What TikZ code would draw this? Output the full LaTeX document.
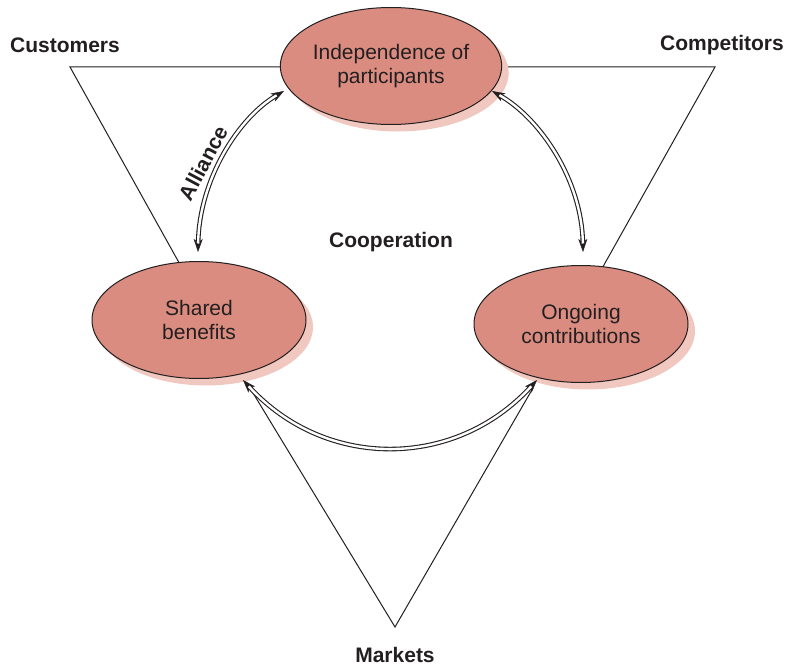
\documentclass[tikz,border=0pt]{standalone}
\usepackage{fontspec}
\setmainfont{Liberation Sans}
\usetikzlibrary{shapes.geometric,arrows.meta,shadows}
\definecolor{ellfill}{HTML}{DA8C80}
\definecolor{shadowpink}{HTML}{F0C8BF}
\definecolor{ink}{HTML}{231F20}
\newcommand\dlink[1]{%
  \draw[ink, line width=0.5pt, {Stealth[length=13pt,width=9pt,inset=3.5pt]}-{Stealth[length=13pt,width=9pt,inset=3.5pt]}] #1;
  \draw[ink, line width=4.6pt, shorten <=8.5pt, shorten >=8.5pt] #1;
  \draw[white, line width=2.4pt, shorten <=8.5pt, shorten >=8.5pt] #1;}
\begin{document}
\begin{tikzpicture}[x=1pt,y=-1pt,
  bubble/.style={ellipse, draw=ink, line width=1pt, fill=ellfill, minimum width=214pt, minimum height=117pt, inner sep=0pt, align=center, text=ink, font=\fontsize{21}{24}\selectfont,
    drop shadow={shadow xshift=7pt, shadow yshift=-7pt, fill=shadowpink, opacity=1}},
  lbl/.style={font=\fontsize{21}{24}\selectfont\bfseries, text=ink},
  edge/.style={draw=ink, line width=1pt}
]
\useasboundingbox (0,0) rectangle (785,669);
% triangle vertices and leg ends
\coordinate (cv) at (70,67);
\coordinate (pv) at (715,67);
\coordinate (mv) at (395,627);
\coordinate (cl) at (182,268);
\coordinate (pl) at (600,272);
\coordinate (ml) at (250,388);
\coordinate (mr) at (533,388);
\draw[edge] (388,67) -- (cv) -- (cl);
\draw[edge] (392,67) -- (pv) -- (pl);
\draw[edge] (ml) -- (mv) -- (mr);
% ellipses
\node[bubble] (ind) at (391,66) {Independence of\\participants};
\node[bubble] (sb) at (199,320) {Shared\\benefits};
\node[bubble] (oc) at (581,324) {Ongoing\\contributions};
% links
\coordinate (a1) at (284,91);
\coordinate (a2) at (198,252);
\coordinate (b1) at (492,91);
\coordinate (b2) at (583,252);
\coordinate (c1) at (243,380);
\coordinate (c2) at (537,380);
\dlink{(a1) .. controls (238,118) and (199,180) .. (a2)}
\dlink{(b1) .. controls (540,118) and (582,180) .. (b2)}
\dlink{(c1) .. controls (325,470) and (455,470) .. (c2)}
% labels
\node[lbl] (cust) at (65,45) {Customers};
\node[lbl] (comp) at (722,45) {Competitors};
\node[lbl] (coop) at (391,242) {Cooperation};
\node[lbl] (mark) at (395,655) {Markets};
\node[lbl, rotate=62] (all) at (203,163) {Alliance};
\end{tikzpicture}
\end{document}
